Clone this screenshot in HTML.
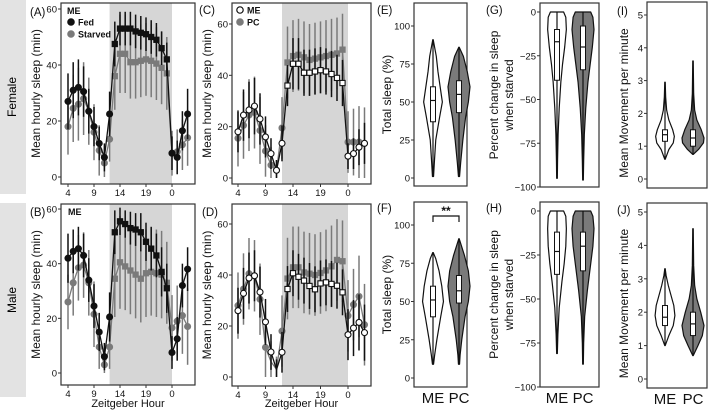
<!DOCTYPE html>
<html><head><meta charset="utf-8">
<style>
html,body{margin:0;padding:0;background:#fff;}
svg{display:block;font-family:"Liberation Sans",Arial,sans-serif;}
</style></head>
<body>
<svg id="fig" width="709" height="412" viewBox="0 0 709 412" xmlns="http://www.w3.org/2000/svg">
<rect x="0" y="0" width="26" height="194" fill="#e3e3e3"/>
<text x="13" y="97" transform="rotate(-90 13 97)" text-anchor="middle" dominant-baseline="middle" font-size="12">Female</text>
<rect x="0" y="203" width="26" height="194" fill="#e3e3e3"/>
<text x="13" y="300" transform="rotate(-90 13 300)" text-anchor="middle" dominant-baseline="middle" font-size="12">Male</text>
</svg>
<script>
// ---------- data ----------
const hours = [4,5,6,7,8,9,10,11,12,13,14,15,16,17,18,19,20,21,22,23,24,25,26,27];
const xTickLabels = ["4","9","14","19","0"];
const xTickHours = [4,9,14,19,24];
const yTicksLine = [0,20,40,60];
// Panel A female ME fed / starved
const aFed = [27,31,32,30.5,23.5,18,12,7,22.5,47.5,53,53,53,52,51.5,51,50,49,46,42,8.5,7,16.5,22.5];
const aFedErr = [10,10,10,9,8,7,6,5,8,8,6,6,6,6,6,6,6,6,6,6,6,6,7,9];
const aStarved = [18,24.5,26,28,23.5,16,9.5,5,13.5,36,44,44,41,41,41.5,42,41.5,40.5,39,37,8.5,9,11.5,14];
const aStarvedErr = [10,12,13,13,12,10,9,6,8,12,14,14,13,13,13,13,13,13,13,13,8,8,9,10];
// Panel B male ME fed / starved
const bFed = [42,44.5,45.5,43,34,24.5,15,6,20.5,51.5,55.5,54.5,53,52.5,51.5,48,45.5,43,37,31,7.5,12.5,32,38];
const bFedErr = [9,8,8,8,8,8,7,5,9,8,5,5,6,6,7,7,8,8,9,9,6,8,8,8];
const bStarved = [26,33,38.5,39.5,33,21.5,9.5,3,9.5,34.5,40.5,39,37.5,36,34.5,36.5,37,36.5,36,33,16.5,19,21,17];
const bStarvedErr = [10,12,12,12,12,12,8,5,8,14,17,16,16,16,16,16,16,16,16,15,12,13,14,14];
// Panel C female fed ME / PC
const cME = [18,24.5,26.5,28,23,16,9.5,3,13.5,36,44.5,44.5,41,41,41.5,42,41.5,40.5,39,37,8.5,9.5,12,13.5];
const cMEErr = [8,10,11,11,10,8,6,4,7,8,10,10,9,9,9,9,9,9,9,9,5,6,7,8];
const cPC = [15.5,20.5,24.5,25.5,18.5,10.5,5,3,19.5,45,47.5,48,47,46,46.5,47,47.5,48,48.5,50,14,14,14,13.5];
const cPCErr = [11,13,14,14,13,10,7,4,12,14,14,14,14,14,14,14,14,14,14,14,12,13,14,14];
// Panel D male fed ME / PC
const dME = [26,32.8,38.8,39.7,33.3,21.6,9.8,2.9,9.7,34.5,40.7,39.3,37.8,35.7,34.4,36.7,37.1,36.5,35.8,33.2,16.6,19.2,21.4,17.4];
const dMEErr = [9,10,10,10,10,9,7,4,8,9,9,9,9,9,9,9,9,9,9,9,10,11,11,11];
const dPC = [28,34.5,40.5,39.7,30.5,11.6,6,3,18,38.6,43,43,41,40.5,40,40.8,41.8,43.4,45.9,45.4,24,28.4,31.6,20.5];
const dPCErr = [13,14,14,14,14,12,8,5,14,16,16,16,16,16,16,16,16,16,16,16,14,14,16,16];

// Violin data
const eMEvals=[1,10,25,40,50,60,70,80,91]; const eMEw=[0.05,0.12,0.25,0.6,0.85,0.65,0.45,0.3,0.02];
const eMEbox=[37,51,60];
const ePCvals=[1,10,25,40,50,60,70,80,86]; const ePCw=[0.05,0.15,0.35,0.6,0.85,1,0.75,0.4,0.02];
const ePCbox=[43,55,64];
const fMEvals=[9,15,25,40,50,60,70,78,82]; const fMEw=[0.05,0.15,0.35,0.7,0.95,0.8,0.55,0.25,0.02];
const fMEbox=[40,51,60];
const fPCvals=[9,15,25,40,50,60,70,80,91]; const fPCw=[0.05,0.1,0.25,0.55,0.85,1,0.85,0.5,0.02];
const fPCbox=[49,57,67];
const gMEvals=[-95,-85,-70,-55,-40,-30,-20,-10,-3,0]; const gMEw=[0.03,0.05,0.1,0.2,0.35,0.5,0.7,0.85,0.8,0.6];
const gMEbox=[-39,-17,-10];
const gPCvals=[-96,-85,-70,-55,-40,-30,-20,-10,-3,0]; const gPCw=[0.03,0.06,0.12,0.25,0.45,0.65,0.85,1,0.9,0.7];
const gPCbox=[-33,-20,-8];
const hMEvals=[-81,-70,-55,-40,-30,-20,-10,-3,0]; const hMEw=[0.03,0.08,0.2,0.45,0.65,0.8,0.85,0.8,0.6];
const hMEbox=[-36,-23,-12];
const hPCvals=[-87,-75,-60,-45,-30,-20,-10,-3,0]; const hPCw=[0.03,0.06,0.15,0.4,0.7,0.9,1,0.9,0.7];
const hPCbox=[-34,-20,-12];
const iMEvals=[0.6,0.9,1.1,1.3,1.5,1.8,2.1,2.5,2.95]; const iMEw=[0.02,0.35,0.75,0.85,0.7,0.35,0.15,0.06,0.02];
const iMEbox=[1.15,1.35,1.5];
const iPCvals=[0.75,0.9,1.1,1.25,1.5,1.8,2.1,2.6,3.6]; const iPCw=[0.02,0.5,0.95,1,0.75,0.35,0.15,0.06,0.02];
const iPCbox=[1.0,1.25,1.5];
const jMEvals=[1.0,1.3,1.6,1.9,2.2,2.5,2.8,3.1,3.3]; const jMEw=[0.02,0.35,0.75,0.9,0.8,0.55,0.3,0.1,0.02];
const jMEbox=[1.6,1.85,2.2];
const jPCvals=[0.7,1.0,1.3,1.6,2.0,2.4,2.8,3.4,4.5]; const jPCw=[0.02,0.45,0.85,1,0.7,0.35,0.15,0.06,0.02];
const jPCbox=[1.3,1.65,2.0];

// ---------- drawing ----------
const NS="http://www.w3.org/2000/svg";
const svg=document.getElementById('fig');
const GRAY="#7a7a7a";
function mk(tag,attrs,parent){const e=document.createElementNS(NS,tag);for(const k in attrs)e.setAttribute(k,attrs[k]);(parent||svg).appendChild(e);return e;}
function txt(x,y,s,size,anchor,extra,parent){const t=mk('text',Object.assign({x:x,y:y,'font-size':size,'text-anchor':anchor||'start',fill:'#111'},extra||{}),parent);t.textContent=s;return t;}

function linePanel(p){
  const g=mk('g',{});
  
  
  const xs=h=>p.x0+(h-4)*p.px;
  const ys=v=>p.y0-v*p.py;
  const sh=mk('rect',{x:xs(12),y:p.top,width:xs(24)-xs(12),height:p.bot-p.top,fill:'#d6d6d6'},g);
  
  
  mk('rect',{x:p.left,y:p.top,width:p.right-p.left,height:p.bot-p.top,fill:'none',stroke:'#333','stroke-width':1.2},g);
  yTicksLine.forEach(v=>{mk('line',{x1:p.left-3,x2:p.left,y1:ys(v),y2:ys(v),stroke:'#333'},g);
    const t=txt(p.left-4,ys(v)+3.5,String(v),9.5,'end',{},g);
    
    });
  xTickHours.forEach((h,i)=>{mk('line',{x1:xs(h),x2:xs(h),y1:p.bot,y2:p.bot+3,stroke:'#333'},g);
    const t=txt(xs(h),p.bot+12,xTickLabels[i],9.5,'middle',{},g);
    
    });
  const yt=txt(0,0,'Mean hourly sleep (min)',12,'middle',{transform:`translate(${p.left-21},${(p.top+p.bot)/2}) rotate(-90)`},g);
  
  
  if(p.xlabel){const xl=txt((p.left+p.right)/2,407,'Zeitgeber Hour',11,'middle',{},g);
    
    }
  p.series.forEach(s=>{
    const sg=mk('g',{},g);
    
    
    hours.forEach((h,i)=>{mk('line',{x1:xs(h),x2:xs(h),y1:ys(s.vals[i]+s.err[i]),y2:ys(Math.max(0,s.vals[i]-s.err[i])),stroke:s.ebar,'stroke-width':1.5},sg);});
    mk('polyline',{points:hours.map((h,i)=>xs(h)+','+ys(s.vals[i])).join(' '),fill:'none',stroke:s.line,'stroke-width':1.3},sg);
    hours.forEach((h,i)=>{
      if(s.skip&&s.skip.includes(h))return;
      const cx=xs(h),cy=ys(s.vals[i]);let m;
      if(h>=13&&h<=23) m=mk('rect',{x:cx-2.6,y:cy-2.6,width:5.2,height:5.2,fill:s.fill,stroke:s.stroke,'stroke-width':1.1},sg);
      else m=mk('circle',{cx:cx,cy:cy,r:3,fill:s.fill,stroke:s.stroke,'stroke-width':1.1},sg);
      
      
    });
  });
  return g;
}
const black={line:'#111',ebar:'#111',fill:'#111',stroke:'#111'};
const grayS={line:GRAY,ebar:GRAY,fill:GRAY,stroke:GRAY};
const open={line:'#111',ebar:'#111',fill:'#fff',stroke:'#111'};
linePanel({name:'panel-a',left:61,right:195,top:3,bot:184,x0:68,px:5.2,y0:177,py:2.8,xlabel:false,
  series:[Object.assign({name:'series-starved',vals:aStarved,err:aStarvedErr},grayS),Object.assign({name:'series-fed',vals:aFed,err:aFedErr},black)]});
linePanel({name:'panel-b',left:61,right:195,top:204,bot:385,x0:68,px:5.2,y0:373,py:2.733,xlabel:true,
  series:[Object.assign({name:'series-starved',vals:bStarved,err:bStarvedErr},grayS),Object.assign({name:'series-fed',vals:bFed,err:bFedErr},black)]});
linePanel({name:'panel-c',left:232,right:371,top:3,bot:184,x0:238,px:5.5,y0:178,py:2.567,xlabel:false,
  series:[Object.assign({name:'series-pc',vals:cPC,err:cPCErr},grayS),Object.assign({name:'series-me',vals:cME,err:cMEErr},open)]});
linePanel({name:'panel-d',left:232,right:371,top:204,bot:386,x0:238,px:5.5,y0:377,py:2.55,xlabel:true,
  series:[Object.assign({name:'series-pc',vals:dPC,err:dPCErr,skip:[10,11]},grayS),Object.assign({name:'series-me',vals:dME,err:dMEErr,skip:[11]},open)]});

// legends
function lg(x,y,s,fill,stroke,name){const g=mk('g',{});
  mk('circle',{cx:x,cy:y,r:3.2,fill:fill,stroke:stroke,'stroke-width':1.2},g);txt(x+7,y+3.5,s,9,'start',{'font-weight':'bold'},g);}
txt(67,14,'ME',9,'start',{'font-weight':'bold'});
lg(71,22,'Fed','#111','#111','legend-entry-fed');
lg(71,34,'Starved',GRAY,GRAY,'legend-entry-starved');
txt(68,215,'ME',9,'start',{'font-weight':'bold'});
lg(240,10,'ME','#fff','#111','legend-entry-me');
lg(240,22,'PC',GRAY,GRAY,'legend-entry-pc');

// panel letters
[['(A)',30,16],['(B)',30,216],['(C)',199,14],['(D)',202,216],['(E)',377,14],['(F)',377,212],['(G)',486,14],['(H)',486,212],['(I)',617,15],['(J)',617,214]].forEach(a=>{
  const t=txt(a[1],a[2],a[0],11.5,'start');
  
  });

// violin panels
function violinPanel(p){
  const g=mk('g',{});
  
  
  const ys=v=>p.y0-(v-p.v0)*p.py;
  mk('rect',{x:p.left,y:p.top,width:p.right-p.left,height:p.bot-p.top,fill:'none',stroke:'#333','stroke-width':1.2},g);
  p.ticks.forEach(v=>{mk('line',{x1:p.left-3,x2:p.left,y1:ys(v),y2:ys(v),stroke:'#333'},g);
    const t=txt(p.left-4,ys(v)+3.5,String(v).replace('-','\u2212'),9.5,'end',{},g);
    
    });
  const cy=(p.top+p.bot)/2+(p.tdy||0);
  p.title.forEach((s,i)=>{const t=txt(0,0,s,12,'middle',{transform:`translate(${p.tx+i*15},${cy}) rotate(-90)`},g);
    
    });
  p.v.forEach((vi,k)=>{
    const cx=p.cx[k];
    const vg=mk('g',{},g);
    
    
    const L=[],R=[];
    vi.vals.forEach((v,i)=>{R.push((cx+vi.w[i]*p.hw)+','+ys(v));L.unshift((cx-vi.w[i]*p.hw)+','+ys(v));});
    mk('polygon',{points:R.concat(L).join(' '),fill:k==0?'#fff':GRAY,stroke:'#111','stroke-width':1.2,'stroke-linejoin':'round'},vg);
    mk('line',{x1:cx,x2:cx,y1:ys(vi.vals[0]),y2:ys(vi.vals[vi.vals.length-1]),stroke:'#111','stroke-width':1.2},vg);
    const b=vi.box;
    mk('rect',{x:cx-2.5,y:ys(b[2]),width:5,height:ys(b[0])-ys(b[2]),fill:'#fff',stroke:'#111','stroke-width':1},vg);
    mk('line',{x1:cx-2.5,x2:cx+2.5,y1:ys(b[1]),y2:ys(b[1]),stroke:'#111','stroke-width':1.2},vg);
  });
  if(p.xlabel){['ME','PC'].forEach((s,k)=>{const t=txt(p.cx[k],p.bot+16,s,15,'middle',{},g);
    
    });}
  return {g:g,ys:ys};
}
violinPanel({name:'panel-e',left:414,right:467,top:3,bot:186,y0:178,v0:0,py:1.52,ticks:[0,25,50,75,100],title:['Total sleep (%)'],tx:391,cx:[433,459],hw:11,
  v:[{vals:eMEvals,w:eMEw,box:eMEbox},{vals:ePCvals,w:ePCw,box:ePCbox}]});
violinPanel({name:'panel-f',left:414,right:467,top:202,bot:387,y0:378,v0:0,py:1.53,ticks:[0,25,50,75,100],title:['Total sleep (%)'],tx:391,cx:[433,459],hw:11,xlabel:true,
  v:[{vals:fMEvals,w:fMEw,box:fMEbox},{vals:fPCvals,w:fPCw,box:fPCbox}]});
const br=mk('polyline',{points:`433,222 433,216 459,216 459,222`,fill:'none',stroke:'#111','stroke-width':1.2});


txt(446,215,'**',12,'middle',{'font-weight':'bold'});
violinPanel({name:'panel-g',left:540,right:599,top:3,bot:187,y0:12,v0:0,py:1.75,ticks:[0,-25,-50,-75,-100],title:['Percent change in sleep','when starved'],tx:498,cx:[557,583],hw:11,
  v:[{vals:gMEvals,w:gMEw,box:gMEbox},{vals:gPCvals,w:gPCw,box:gPCbox}]});
violinPanel({name:'panel-h',left:540,right:599,top:202,bot:387,y0:211,v0:0,py:1.76,ticks:[0,-25,-50,-75,-100],title:['Percent change in sleep','when starved'],tx:498,cx:[557,583],hw:11,xlabel:true,
  v:[{vals:hMEvals,w:hMEw,box:hMEbox},{vals:hPCvals,w:hPCw,box:hPCbox}]});
violinPanel({name:'panel-i',left:647,right:707,top:2,bot:188,y0:179,v0:0,py:32.8,ticks:[0,1,2,3,4,5],title:['Mean Movement per minute'],tx:628,tdy:8,cx:[665,693],hw:11,
  v:[{vals:iMEvals,w:iMEw,box:iMEbox},{vals:iPCvals,w:iPCw,box:iPCbox}]});
violinPanel({name:'panel-j',left:647,right:707,top:203,bot:388,y0:379,v0:0,py:33.4,ticks:[0,1,2,3,4,5],title:['Mean Movement per minute'],tx:628,tdy:8,cx:[665,693],hw:11,xlabel:true,
  v:[{vals:jMEvals,w:jMEw,box:jMEbox},{vals:jPCvals,w:jPCw,box:jPCbox}]});
</script>
</body></html>
